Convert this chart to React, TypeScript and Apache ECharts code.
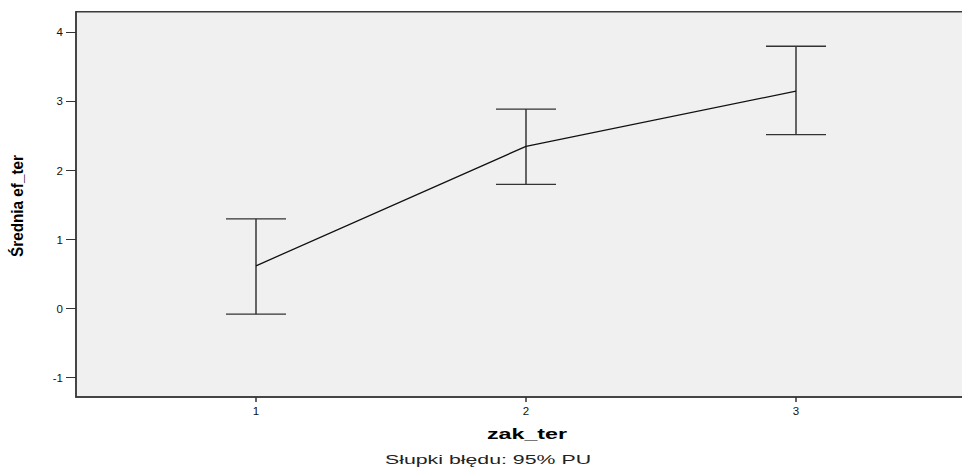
import React, { useEffect, useRef } from "react";
import * as echarts from "echarts";

const categories = [1, 2, 3];
const means = [0.62, 2.35, 3.15];
const lower = [-0.08, 1.8, 2.52];
const upper = [1.3, 2.89, 3.8];
const yTicks = [-1, 0, 1, 2, 3, 4];

export default function App() {
  const ref = useRef<HTMLDivElement>(null);
  useEffect(() => {
    document.body.style.margin = "0";
    const chart = echarts.init(ref.current!, undefined, { renderer: "svg" });
    const errData = categories.map((c, i) => [c, lower[i], upper[i]]);
    chart.setOption({
      animation: false,
      grid: {
        left: 76,
        top: 11.7,
        bottom: 71,
        width: 900,
        outerBoundsMode: "none",
        containLabel: false,
        show: true,
        backgroundColor: "#f0f0f0",
        borderColor: "#3a3a3a",
        borderWidth: 1.5,
      },
      xAxis: {
        type: "value",
        min: 1 / 3,
        max: 11 / 3,
        axisLine: { show: true, onZero: false, lineStyle: { color: "#3a3a3a", width: 1.5 } },
        axisTick: { show: true, length: 5, customValues: categories, lineStyle: { color: "#333", width: 1.5 } },
        axisLabel: { customValues: categories, fontFamily: "Liberation Sans", fontSize: 11.5, color: "#111", margin: 8 },
        splitLine: { show: false },
      },
      yAxis: {
        type: "value",
        min: -1.28,
        max: 4.3,
        axisLine: { show: true, onZero: false, lineStyle: { color: "#3a3a3a", width: 1.5 } },
        axisTick: { show: true, length: 10, customValues: yTicks, lineStyle: { color: "#333" } },
        axisLabel: { customValues: yTicks, fontFamily: "Liberation Sans", fontSize: 11.5, color: "#111", margin: 13 },
        splitLine: { show: false },
      },
      graphic: [
        {
          type: "text",
          x: 17,
          y: 206,
          rotation: Math.PI / 2,
          scaleX: 0.9,
          style: {
            text: "Średnia ef_ter",
            fontFamily: "Liberation Sans",
            fontWeight: "bold",
            fontSize: 17,
            fill: "#000",
            align: "center",
            verticalAlign: "middle",
          },
        },
        {
          type: "text",
          x: 527,
          y: 434,
          scaleX: 1.55,
          style: {
            text: "zak_ter",
            fontFamily: "Liberation Sans",
            fontWeight: "bold",
            fontSize: 15,
            fill: "#000",
            align: "center",
            verticalAlign: "middle",
          },
        },
        {
          type: "text",
          x: 488,
          y: 460,
          scaleX: 1.64,
          style: {
            text: "Słupki błędu: 95% PU",
            fontFamily: "Liberation Sans",
            fontSize: 13,
            fill: "#222",
            align: "center",
            verticalAlign: "middle",
          },
        },
      ],
      series: [
        {
          type: "custom",
          data: errData,
          renderItem: (params: any, api: any) => {
            const x = api.value(0);
            const lo = api.coord([x, api.value(1)]);
            const hi = api.coord([x, api.value(2)]);
            const w = 30;
            const style = { stroke: "#333", lineWidth: 1.3 };
            return {
              type: "group",
              children: [
                { type: "line", shape: { x1: lo[0], y1: lo[1], x2: hi[0], y2: hi[1] }, style: { stroke: "#555", lineWidth: 1.8 } },
                { type: "line", shape: { x1: hi[0] - w, y1: hi[1], x2: hi[0] + w, y2: hi[1] }, style },
                { type: "line", shape: { x1: lo[0] - w, y1: lo[1], x2: lo[0] + w, y2: lo[1] }, style },
              ],
            };
          },
          z: 2,
        },
        {
          type: "line",
          data: categories.map((c, i) => [c, means[i]]),
          symbol: "none",
          lineStyle: { color: "#111", width: 1.3 },
          z: 3,
        },
      ],
    });
    return () => chart.dispose();
  }, []);
  return <div ref={ref} style={{ position: "absolute", left: 0, top: 0, width: 962, height: 468 }} />;
}
